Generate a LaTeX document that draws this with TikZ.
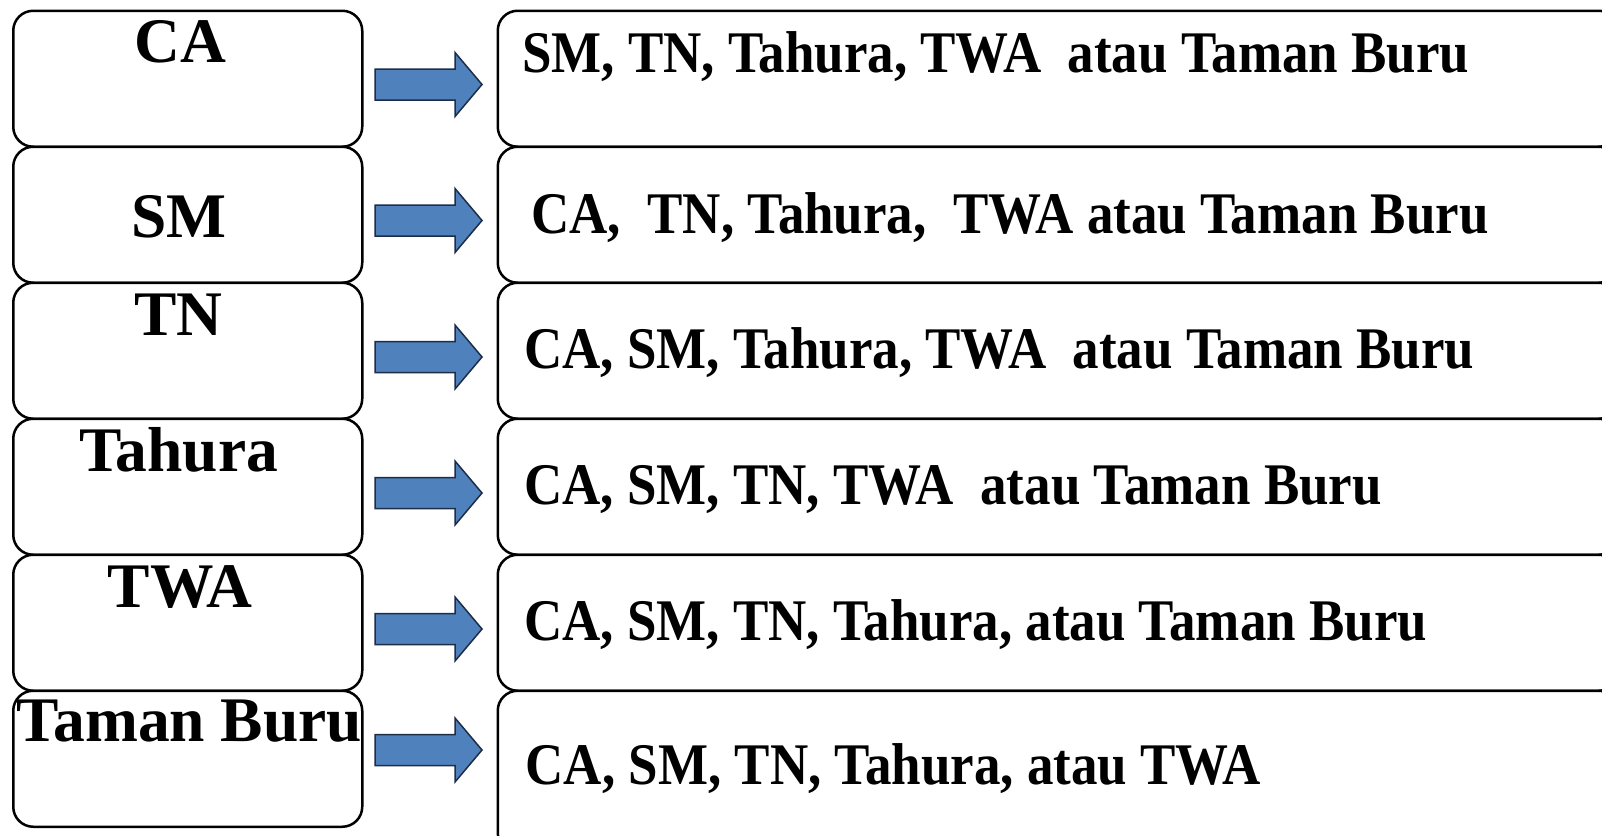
\documentclass[tikz,border=0pt]{standalone}
\usepackage{fontspec}
\setmainfont{Liberation Serif}
\newfontfamily\ltfont{Liberation Serif}
\newfontfamily\rtfont[FakeStretch=0.898]{Liberation Serif}
\definecolor{arrowfill}{HTML}{4F81BD}
\definecolor{arrowline}{HTML}{1E2D46}
\tikzset{
  box/.style={draw=black, line width=2.5pt, rounded corners=20pt, fill=white,
    inner sep=0pt, anchor=north west},
  ltext/.style={anchor=base, inner sep=0pt, font=\ltfont\bfseries\fontsize{63.5}{65}\selectfont},
  rtext/.style={anchor=base west, inner sep=0pt, font=\rtfont\bfseries\fontsize{59}{61}\selectfont},
  blockarrow/.style={fill=arrowfill, draw=arrowline, line width=1.5pt, line join=miter}
}
\begin{document}
\begin{tikzpicture}[x=1pt, y=-1pt]
\useasboundingbox (0,0) rectangle (1602,835);
\fill[white] (0,0) rectangle (1602,835);
\clip (0,0) rectangle (1602,835);

% left boxes
\node[box, minimum width=349, minimum height=136] (b1) at (12,9.5) {};
\node[box, minimum width=349, minimum height=136] (b2) at (12,145.5) {};
\node[box, minimum width=349, minimum height=136] (b3) at (12,281.5) {};
\node[box, minimum width=349, minimum height=136] (b4) at (12,417.5) {};
\node[box, minimum width=349, minimum height=136] (b5) at (12,553.5) {};
\node[box, minimum width=349, minimum height=136] (b6) at (12,689.5) {};

% right boxes
\node[box, minimum width=1121, minimum height=136] (c1) at (496.5,9.5) {};
\node[box, minimum width=1121, minimum height=136] (c2) at (496.5,145.5) {};
\node[box, minimum width=1121, minimum height=136] (c3) at (496.5,281.5) {};
\node[box, minimum width=1121, minimum height=136] (c4) at (496.5,417.5) {};
\node[box, minimum width=1121, minimum height=136] (c5) at (496.5,553.5) {};
\node[box, minimum width=1121, minimum height=162] (c6) at (496.5,689.5) {};

% left labels
\node[ltext] (l1) at (180.5,62.7) {CA};
\node[ltext] (l2) at (179,237) {SM};
\node[ltext] (l3) at (178.5,335) {TN};
\node[ltext] (l4) at (178.5,471) {Tahura};
\node[ltext] (l5) at (180,607) {TWA};
\node[ltext] (l6) at (189.5,741.7) {Taman Buru};

% right labels
\node[rtext] (r1) at (522,72) {SM, TN, Tahura, TWA\ \ atau Taman Buru};
\node[rtext] (r2) at (531,233) {CA,\ \ TN, Tahura,\ \ TWA atau Taman Buru};
\node[rtext] (r3) at (524,368) {CA, SM, Tahura, TWA\ \ atau Taman Buru};
\node[rtext] (r4) at (524,504) {CA, SM, TN, TWA\ \ atau Taman Buru};
\node[rtext] (r5) at (524,640) {CA, SM, TN, Tahura, atau Taman Buru};
\node[rtext] (r6) at (525.5,784) {CA, SM, TN, Tahura, atau TWA};

% block arrows
\foreach \yc/\n in {84.5/1,220.5/2,357/3,493/4,629/5,750/6}{
  \draw[blockarrow, shift={(0,\yc)}] (375,-15.5) -- (455,-15.5) -- (455,-32)
    -- (482,0) -- (455,32) -- (455,15.5) -- (375,15.5) -- cycle;
}
\end{tikzpicture}
\end{document}
